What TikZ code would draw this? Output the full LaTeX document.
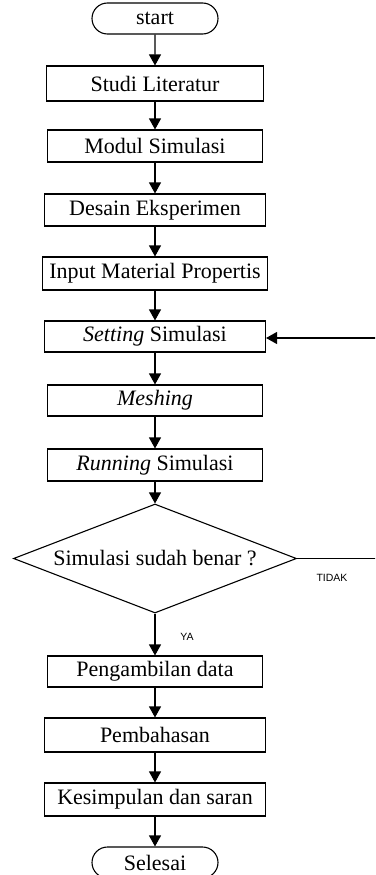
\documentclass[tikz,border=0pt]{standalone}
\usepackage{fontspec}
\setmainfont{Liberation Serif}
\newfontfamily\labelfont{Liberation Sans}
\usetikzlibrary{shapes.geometric,shapes.misc,arrows.meta}
\begin{document}
\begin{tikzpicture}[x=1pt,y=-1pt,
 every node/.style={font=\fontsize{22}{26}\selectfont},
 box/.style={draw, line width=1.1pt, minimum height=32pt, inner sep=0pt},
 term/.style={draw, line width=1.1pt, rounded rectangle, minimum width=126pt, minimum height=31pt, inner sep=0pt},
 dec/.style={draw, line width=1.1pt, diamond, aspect=2.6, minimum width=283pt, minimum height=109pt, inner sep=0pt},
 flow/.style={line width=1.1pt, -{Triangle[width=12pt,length=11pt]}},
 lbl/.style={font=\labelfont\fontsize{10.5}{12}\selectfont, inner sep=0pt}
]
\useasboundingbox (0,0) rectangle (375,875);
\clip (0,0) rectangle (375,875);
\fill[white] (0,0) rectangle (375,875);

\node[term] (start) at (155,18.5) {start};
\node[box, minimum width=217pt, minimum height=35pt] (studi) at (155,83.5) {Studi Literatur};
\node[box, minimum width=215pt] (modul) at (155,146) {Modul Simulasi};
\node[box, minimum width=221pt] (desain) at (155,210) {Desain Eksperimen};
\node[box, minimum width=225pt, minimum height=33pt] (input) at (155,273.5) {Input Material Propertis};
\node[box, minimum width=221pt, minimum height=31pt] (setting) at (155,336.5) {\textit{Setting} Simulasi};
\node[box, minimum width=215pt, minimum height=31pt] (mesh) at (155,400.5) {\textit{Meshing}};
\node[box, minimum width=215pt] (run) at (155,465) {\textit{Running} Simulasi};
\node[dec] (cek) at (155,558.5) {Simulasi sudah benar ?};
\node[box, minimum width=215pt, minimum height=31pt] (ambil) at (155,671.5) {Pengambilan data};
\node[box, minimum width=221pt, minimum height=34pt] (bahas) at (155,735) {Pembahasan};
\node[box, minimum width=221pt, minimum height=33pt] (simpul) at (155,799.5) {Kesimpulan dan saran};
\node[term] (selesai) at (155,862.5) {Selesai};

\coordinate (loopA) at (385,558.5);
\coordinate (loopB) at (385,338);

\draw[flow] (start) -- (studi);
\draw[flow] (studi) -- (modul);
\draw[flow] (modul) -- (desain);
\draw[flow] (desain) -- (input);
\draw[flow] (input) -- (setting);
\draw[flow] (setting) -- (mesh);
\draw[flow] (mesh) -- (run);
\draw[flow] (run) -- (cek);
\draw[flow] (cek) -- (ambil);
\draw[flow] (ambil) -- (bahas);
\draw[flow] (bahas) -- (simpul);
\draw[flow] (simpul) -- (selesai);
\draw[flow] (cek.east) -- (loopA) -- (loopB) -- (setting.east |- loopB);

\node[lbl] (ya) at (187,637) {YA};
\node[lbl] (tidak) at (332,578) {TIDAK};
\end{tikzpicture}
\end{document}
